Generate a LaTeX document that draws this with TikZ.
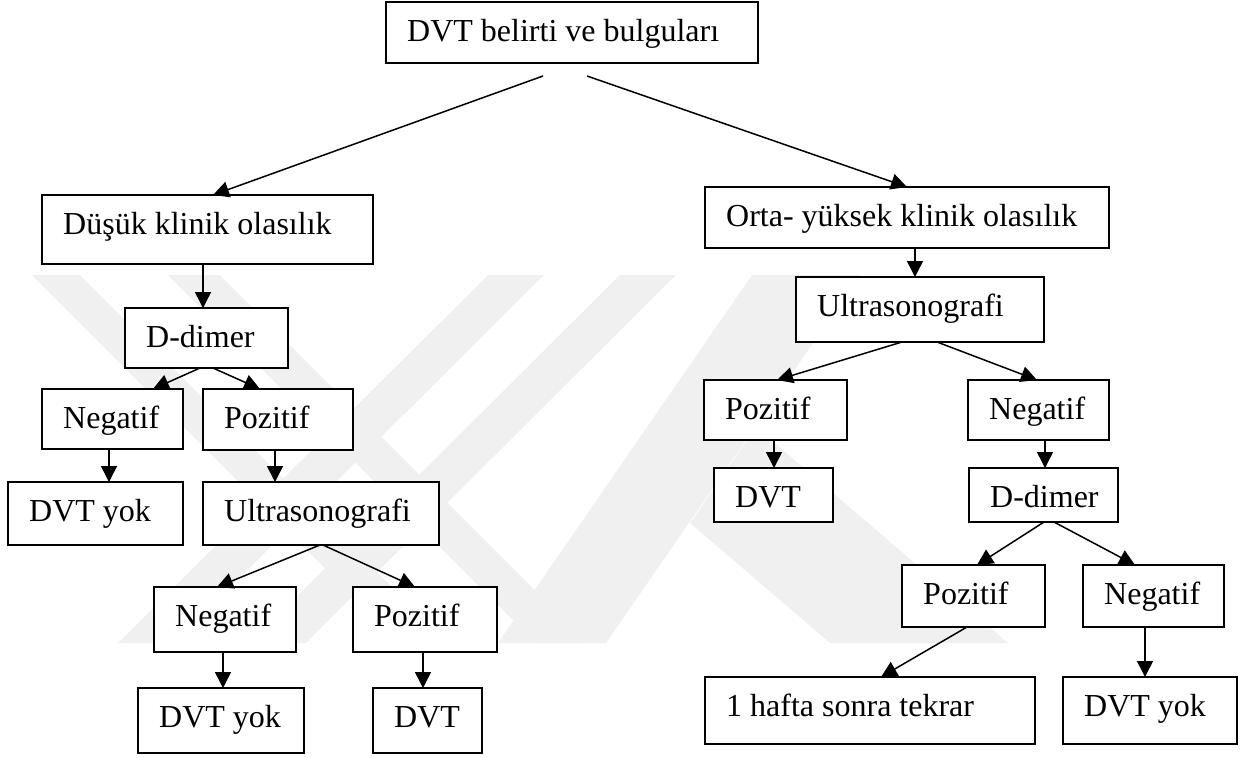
\documentclass[tikz,border=0pt]{standalone}
\usepackage{fontspec}
\setmainfont{Liberation Serif}
\usetikzlibrary{arrows.meta,calc}
\tikzset{
  box/.style={draw=black, line width=1.4pt, fill=white, inner sep=0pt, outer sep=0pt, anchor=north west},
  lbl/.style={font=\fontsize{32}{38}\selectfont, inner sep=0pt, anchor=base west},
  arr/.style={line width=1.5pt, -{Triangle[length=16pt,width=16pt]}},
  wm/.style={fill=black!6, draw=none},
}
\newcommand{\bx}[6]{%
  \node[box, minimum width={#4-#2}, minimum height={#5-#3}] (#1) at (#2,#3) {};
  \node[lbl] (#1t) at ($(#1.north west)+(21,39)$) {#6};
}
\begin{document}
\begin{tikzpicture}[x=1pt,y=-1pt]
\useasboundingbox (0,0) rectangle (1251,758);
% watermark
\fill[wm] (32,275) -- (80,275) -- (448,643) -- (400,643) -- cycle;
\fill[wm] (168,275) -- (220,275) -- (588,643) -- (536,643) -- cycle;
\fill[wm] (488,275) -- (544,275) -- (174,643) -- (118,643) -- cycle;
\fill[wm] (620,275) -- (676,275) -- (306,643) -- (250,643) -- cycle;
\fill[wm] (752,275) -- (860,275) -- (606,643) -- (498,643) -- cycle;
\fill[wm] (756,427) -- (1008,643) -- (830,643) -- (690,523) -- cycle;
% left side
\bx{top}{386}{2}{758}{63}{DVT belirti ve bulguları}
\bx{dus}{42}{195}{373}{264}{Düşük klinik olasılık}
\bx{dd1}{125}{308}{288}{368}{D-dimer}
\bx{neg1}{42}{389}{183}{449}{Negatif}
\bx{poz1}{203}{389}{353}{450}{Pozitif}
\bx{yok1}{8}{482}{183}{545}{DVT yok}
\bx{us1}{203}{482}{439}{545}{Ultrasonografi}
\bx{neg2}{154}{587}{296}{652}{Negatif}
\bx{poz2}{353}{587}{497}{652}{Pozitif}
\bx{yok2}{138}{688}{304}{753}{DVT yok}
\bx{dvt1}{373}{688}{482}{753}{DVT}
% right side
\bx{orta}{705}{187}{1109}{248}{Orta- yüksek klinik olasılık}
\bx{us2}{796}{277}{1044}{342}{Ultrasonografi}
\bx{poz3}{704}{380}{847}{440}{Pozitif}
\bx{neg3}{968}{380}{1109}{440}{Negatif}
\bx{dvt2}{714}{468}{833}{522}{DVT}
\bx{dd2}{969}{468}{1118}{522}{D-dimer}
\bx{poz4}{902}{565}{1045}{627}{Pozitif}
\bx{neg4}{1083}{565}{1224}{627}{Negatif}
\bx{haf}{705}{677}{1035}{744}{1 hafta sonra tekrar}
\bx{yok3}{1063}{677}{1237}{744}{DVT yok}
% connectors
\draw[arr] ($(top.south west)+(157,13)$) -- ($(dus.north west)+(171,0)$);
\draw[arr] ($(top.south west)+(201,13)$) -- (orta.north);
\draw[arr] ($(dus.south west)+(161,0)$) -- ($(dd1.north west)+(78,0)$);
\draw[arr] ($(dd1.south west)+(75,0)$) -- ($(neg1.north west)+(111,0)$);
\draw[arr] ($(dd1.south west)+(88,0)$) -- ($(poz1.north west)+(57,0)$);
\draw[arr] ($(neg1.south west)+(67,0)$) -- ($(yok1.north west)+(101,0)$);
\draw[arr] ($(poz1.south west)+(72,0)$) -- ($(us1.north west)+(72,0)$);
\draw[arr] ($(us1.south west)+(117,0)$) -- ($(neg2.north west)+(63,0)$);
\draw[arr] ($(us1.south west)+(120,0)$) -- ($(poz2.north west)+(62,0)$);
\draw[arr] ($(neg2.south west)+(69,0)$) -- ($(yok2.north west)+(85,0)$);
\draw[arr] ($(poz2.south west)+(70,0)$) -- ($(dvt1.north west)+(50,0)$);
\draw[arr] ($(orta.south west)+(210,0)$) -- ($(us2.north west)+(119,0)$);
\draw[arr] ($(us2.south west)+(106,0)$) -- ($(poz3.north west)+(73,0)$);
\draw[arr] ($(us2.south west)+(141,0)$) -- ($(neg3.north west)+(69,0)$);
\draw[arr] ($(poz3.south west)+(70,0)$) -- ($(dvt2.north west)+(60,0)$);
\draw[arr] ($(neg3.south west)+(77,0)$) -- ($(dd2.north west)+(76,0)$);
\draw[arr] ($(dd2.south west)+(75,0)$) -- ($(poz4.north west)+(75,0)$);
\draw[arr] ($(dd2.south west)+(85,0)$) -- ($(neg4.north west)+(52,0)$);
\draw[arr] ($(poz4.south west)+(65,0)$) -- ($(haf.north west)+(176,0)$);
\draw[arr] ($(neg4.south west)+(62,0)$) -- ($(yok3.north west)+(82,0)$);
\end{tikzpicture}
\end{document}
